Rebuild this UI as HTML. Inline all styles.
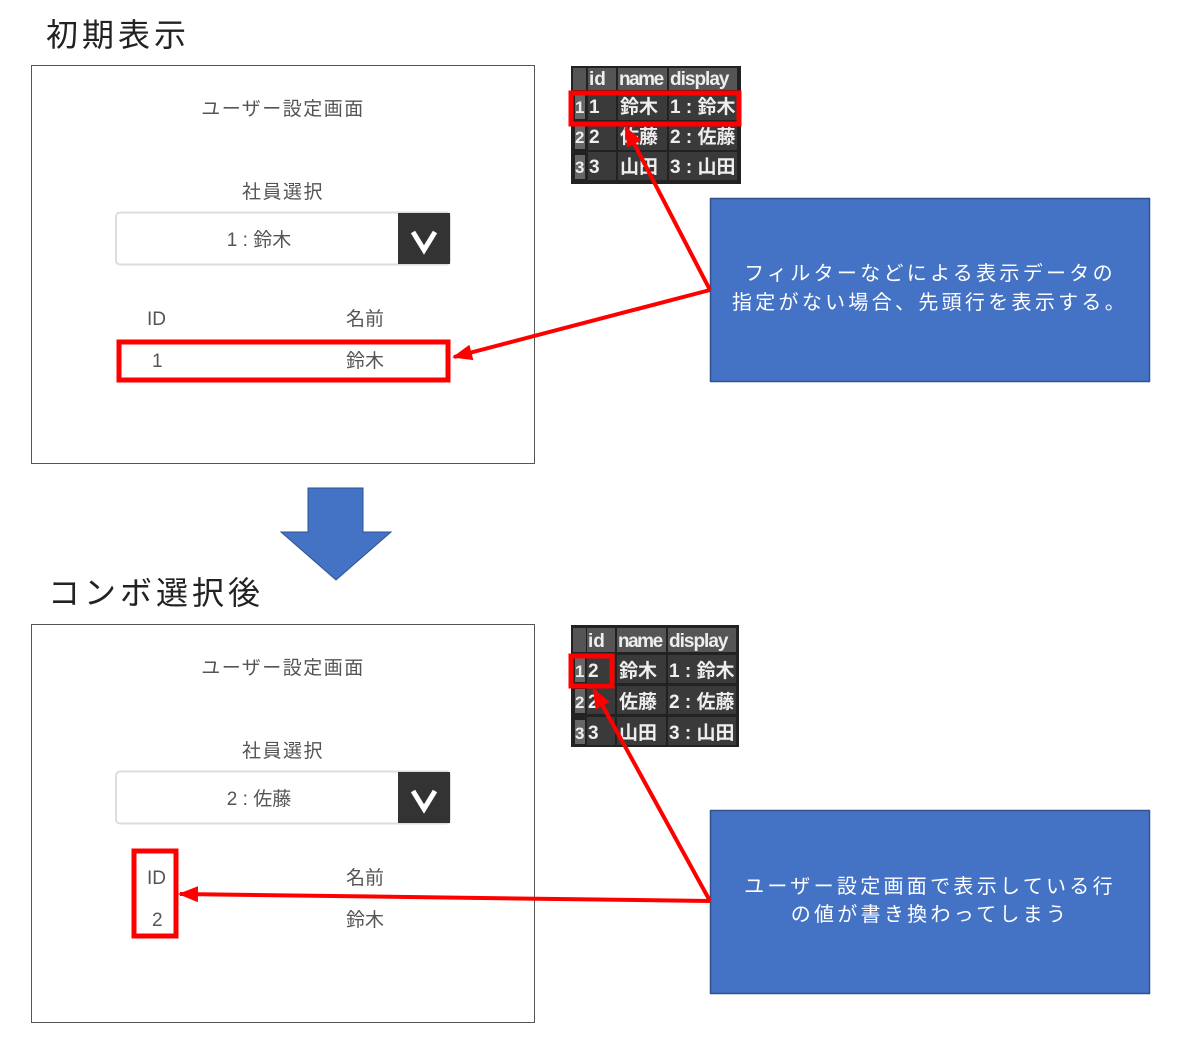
<!DOCTYPE html>
<html><head><meta charset="utf-8"><style>
html,body{margin:0;padding:0;background:#fff;}
svg{display:block;font-family:"Liberation Sans","Noto Sans CJK JP",sans-serif;}
</style></head><body>
<svg width="1178" height="1040" viewBox="0 0 1178 1040" xmlns="http://www.w3.org/2000/svg">
<defs>
<marker id="ah2" markerWidth="20" markerHeight="16" refX="18" refY="8" orient="auto" markerUnits="userSpaceOnUse">
<path d="M0,0 L20,8 L0,16 Z" fill="#f00"/>
</marker>
</defs>
<text x="46" y="46" font-size="32" fill="#222" letter-spacing="4">初期表示</text>
<text x="48" y="604" font-size="32" fill="#222" letter-spacing="4">コンボ選択後</text>

<g>
<rect x="31.5" y="65.5" width="503" height="398" fill="#fff" stroke="#555" stroke-width="1"/>
<text x="283" y="115" font-size="19" fill="#555" text-anchor="middle" letter-spacing="1.5">ユーザー設定画面</text>
<text x="283" y="198" font-size="19" fill="#555" text-anchor="middle" letter-spacing="1.5">社員選択</text>
<rect x="116" y="212.5" width="334" height="52" rx="4" fill="#fff" stroke="#ddd" stroke-width="2"/>
<rect x="398" y="213" width="52" height="51" fill="#333"/>
<path d="M413,232 L424,250 L435,232" stroke="#fff" stroke-width="5" fill="none"/>
<text x="259" y="246" font-size="19" fill="#555" text-anchor="middle">1 : 鈴木</text>
<text x="147" y="325" font-size="19" fill="#555">ID</text>
<text x="346" y="325" font-size="19" fill="#555">名前</text>
<text x="152" y="367" font-size="19" fill="#555">1</text>
<text x="346" y="367" font-size="19" fill="#555">鈴木</text>
</g>
<rect x="119" y="342" width="329" height="38" fill="none" stroke="#f00" stroke-width="5"/>

<g>
<rect x="31.5" y="624.5" width="503" height="398" fill="#fff" stroke="#555" stroke-width="1"/>
<text x="283" y="674" font-size="19" fill="#555" text-anchor="middle" letter-spacing="1.5">ユーザー設定画面</text>
<text x="283" y="757" font-size="19" fill="#555" text-anchor="middle" letter-spacing="1.5">社員選択</text>
<rect x="116" y="771.5" width="334" height="52" rx="4" fill="#fff" stroke="#ddd" stroke-width="2"/>
<rect x="398" y="772" width="52" height="51" fill="#333"/>
<path d="M413,791 L424,809 L435,791" stroke="#fff" stroke-width="5" fill="none"/>
<text x="259" y="805" font-size="19" fill="#555" text-anchor="middle">2 : 佐藤</text>
<text x="147" y="884" font-size="19" fill="#555">ID</text>
<text x="346" y="884" font-size="19" fill="#555">名前</text>
<text x="152" y="926" font-size="19" fill="#555">2</text>
<text x="346" y="926" font-size="19" fill="#555">鈴木</text>
</g>
<rect x="134" y="851" width="42" height="85" fill="none" stroke="#f00" stroke-width="5"/>

<path d="M308,488 L363,488 L363,532 L391,532 L336,580 L281,532 L308,532 Z" fill="#4472C4" stroke="#2F528F" stroke-width="1"/>

<g font-size="19" fill="#eee" font-weight="bold">
<rect x="571" y="66" width="170" height="118" fill="#222"/>
<rect x="573" y="68" width="13" height="22" fill="#555"/>
<rect x="588" y="68" width="28" height="22" fill="#555"/>
<rect x="618" y="68" width="49" height="22" fill="#555"/>
<rect x="669" y="68" width="68" height="22" fill="#555"/>
<g fill="#3a3a3a">
<rect x="588" y="92" width="28" height="28"/><rect x="618" y="92" width="49" height="28"/><rect x="669" y="92" width="68" height="28"/>
<rect x="588" y="122" width="28" height="28"/><rect x="618" y="122" width="49" height="28"/><rect x="669" y="122" width="68" height="28"/>
<rect x="588" y="152" width="28" height="28"/><rect x="618" y="152" width="49" height="28"/><rect x="669" y="152" width="68" height="28"/>
</g>
<g fill="#666"><rect x="575" y="95" width="10" height="24"/><rect x="575" y="125" width="10" height="24"/><rect x="575" y="155" width="10" height="24"/></g>
<text x="589" y="85">id</text><text x="619" y="85" letter-spacing="-1.5">name</text><text x="670" y="85" letter-spacing="-1">display</text>
<text x="575" y="113" font-size="17">1</text><text x="589" y="113">1</text><text x="620" y="113">鈴木</text><text x="670" y="113">1 : 鈴木</text>
<text x="575" y="143" font-size="17">2</text><text x="589" y="143">2</text><text x="620" y="143">佐藤</text><text x="670" y="143">2 : 佐藤</text>
<text x="575" y="173" font-size="17">3</text><text x="589" y="173">3</text><text x="620" y="173">山田</text><text x="670" y="173">3 : 山田</text>
</g>
<rect x="571" y="93" width="168" height="31" fill="none" stroke="#f00" stroke-width="5"/>

<g font-size="19" fill="#eee" font-weight="bold">
<rect x="571" y="625" width="168" height="122" fill="#222"/>
<rect x="573" y="628" width="13" height="24" fill="#555"/>
<rect x="587" y="628" width="28" height="24" fill="#555"/>
<rect x="617" y="628" width="49" height="24" fill="#555"/>
<rect x="668" y="628" width="68" height="24" fill="#555"/>
<g fill="#3a3a3a">
<rect x="587" y="655" width="28" height="28"/><rect x="617" y="655" width="49" height="28"/><rect x="668" y="655" width="68" height="28"/>
<rect x="587" y="686" width="28" height="28"/><rect x="617" y="686" width="49" height="28"/><rect x="668" y="686" width="68" height="28"/>
<rect x="587" y="717" width="28" height="28"/><rect x="617" y="717" width="49" height="28"/><rect x="668" y="717" width="68" height="28"/>
</g>
<g fill="#666"><rect x="575" y="658" width="10" height="24"/><rect x="575" y="689" width="10" height="24"/><rect x="575" y="720" width="10" height="24"/></g>
<text x="588" y="647">id</text><text x="618" y="647" letter-spacing="-1.5">name</text><text x="669" y="647" letter-spacing="-1">display</text>
<text x="575" y="677" font-size="17">1</text><text x="588" y="677">2</text><text x="619" y="677">鈴木</text><text x="669" y="677">1 : 鈴木</text>
<text x="575" y="708" font-size="17">2</text><text x="588" y="708">2</text><text x="619" y="708">佐藤</text><text x="669" y="708">2 : 佐藤</text>
<text x="575" y="739" font-size="17">3</text><text x="588" y="739">3</text><text x="619" y="739">山田</text><text x="669" y="739">3 : 山田</text>
</g>
<rect x="571" y="656" width="41" height="30" fill="none" stroke="#f00" stroke-width="5"/>

<rect x="710.5" y="198.5" width="439" height="183" fill="#4472C4" stroke="#2F528F" stroke-width="1.5"/>
<text x="930" y="280" font-size="20" fill="#fff" text-anchor="middle" letter-spacing="3.3">フィルターなどによる表示データの</text>
<text x="930" y="309" font-size="20" fill="#fff" text-anchor="middle" letter-spacing="3.3">指定がない場合、先頭行を表示する。</text>
<rect x="710.5" y="810.5" width="439" height="183" fill="#4472C4" stroke="#2F528F" stroke-width="1.5"/>
<text x="930" y="893" font-size="20" fill="#fff" text-anchor="middle" letter-spacing="3.3">ユーザー設定画面で表示している行</text>
<text x="930" y="921" font-size="20" fill="#fff" text-anchor="middle" letter-spacing="3.3">の値が書き換わってしまう</text>

<g stroke="#f00" stroke-width="4" fill="none">
<line x1="710" y1="290" x2="454" y2="357" marker-end="url(#ah2)"/>
<line x1="710" y1="290" x2="626" y2="128" marker-end="url(#ah2)"/>
<line x1="710" y1="901" x2="180" y2="894" marker-end="url(#ah2)"/>
<line x1="710" y1="901" x2="594" y2="690" marker-end="url(#ah2)"/>
</g>
</svg>
</body></html>
